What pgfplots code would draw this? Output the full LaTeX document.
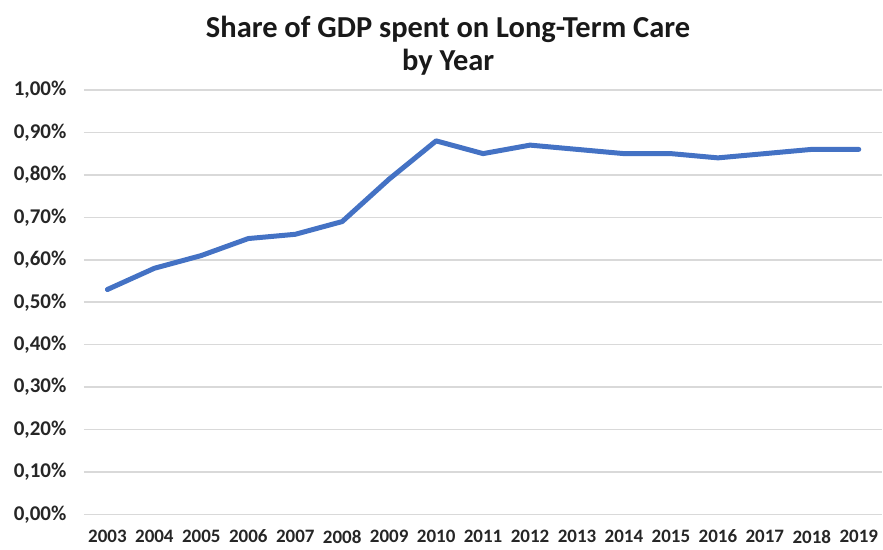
\documentclass[border=0pt]{standalone}
\usepackage{pgfplots}
\pgfplotsset{compat=1.18}
\usepackage{fontspec}
\setmainfont{Carlito}
\definecolor{lineblue}{HTML}{4472C4}
\definecolor{gridgray}{HTML}{D9D9D9}
\begin{document}
\begin{tikzpicture}[x=1pt,y=1pt]
\begin{axis}[
  at={(84pt,35pt)}, anchor=south west,
  width=799pt, height=425pt, scale only axis,
  xmin=-0.5, xmax=16.5, ymin=0, ymax=1,
  axis line style={draw=none},
  major tick length=0pt,
  xtick={0,...,16},
  xticklabels={2003,2004,2005,2006,2007,2008,2009,2010,2011,2012,2013,2014,2015,2016,2017,2018,2019},
  ytick={0,0.1,0.2,0.3,0.4,0.5,0.6,0.7,0.8,0.9,1.0},
  yticklabels={{0,00\%},{0,10\%},{0,20\%},{0,30\%},{0,40\%},{0,50\%},{0,60\%},{0,70\%},{0,80\%},{0,90\%},{1,00\%}},
  ymajorgrids, grid style={gridgray, line width=1.5pt},
  tick label style={font=\fontsize{19}{22}\selectfont\bfseries, text=black!85},
  yticklabel style={anchor=east, xshift=-14pt, font=\fontsize{21}{24}\selectfont\bfseries},
  xticklabel style={anchor=center, yshift=-22pt},
  clip=false,
]
\addplot[lineblue, line width=5pt, line join=round, line cap=round] coordinates {
(0,0.53) (1,0.58) (2,0.61) (3,0.65) (4,0.66) (5,0.69) (6,0.79) (7,0.88) (8,0.85)
(9,0.87) (10,0.86) (11,0.85) (12,0.85) (13,0.84) (14,0.85) (15,0.86) (16,0.86)};
\end{axis}
\node[font=\fontsize{30.5}{33}\selectfont\bfseries, text=black!90, align=center] at (448.5pt,504pt) {Share of GDP spent on Long-Term Care\\by Year};
\useasboundingbox (0,0) rectangle (883pt,550pt);
\end{tikzpicture}
\end{document}
